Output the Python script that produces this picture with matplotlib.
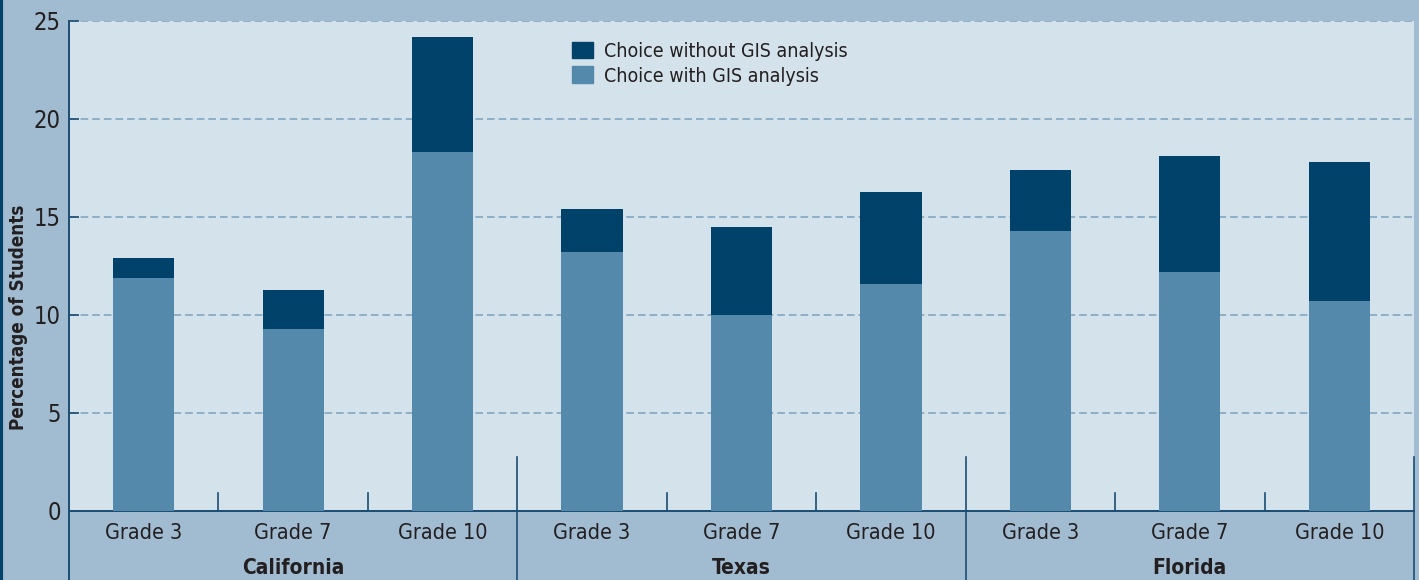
import matplotlib
matplotlib.use("Agg")
import matplotlib.pyplot as plt
from matplotlib.lines import Line2D
from matplotlib.patches import Patch
import numpy as np

states = ["California", "Texas", "Florida"]
grades = ["Grade 3", "Grade 7", "Grade 10"]
with_gis = [11.9, 9.3, 18.3, 13.2, 10.0, 11.6, 14.3, 12.2, 10.7]
total = [12.9, 11.3, 24.2, 15.4, 14.5, 16.3, 17.4, 18.1, 17.8]
without_gis = [t - w for t, w in zip(total, with_gis)]
yticks = [0, 5, 10, 15, 20, 25]

plt.rcParams['font.family'] = ['DejaVu Sans']
plt.rcParams['font.stretch'] = 'condensed'

FIG_BG = '#a1bbd1'
AX_BG = '#d4e2eb'
DARK = '#00426a'
LIGHT = '#5589ab'
LINE = '#1b4e74'
GRID = '#7ba1bc'
TXT = '#231f20'

W, H = 1419, 580
fig = plt.figure(figsize=(W / 100, H / 100), dpi=100, facecolor=FIG_BG)
ax = fig.add_axes([69 / W, (H - 511) / H, (1414 - 69) / W, (511 - 21) / H])
ax.set_facecolor(AX_BG)

n = len(states) * len(grades)
x = np.arange(n)
ax.bar(x, with_gis, width=0.41, color=LIGHT, zorder=3, label="Choice with GIS analysis")
ax.bar(x, without_gis, bottom=with_gis, width=0.41, color=DARK, zorder=3,
       label="Choice without GIS analysis")

ax.set_xlim(-0.5, n - 0.5)
ax.set_ylim(0, 25)
ax.set_yticks(yticks)
ax.yaxis.grid(True, linestyle=(0, (5, 2.6)), color=GRID, linewidth=1.1, zorder=1)
ax.set_axisbelow(True)
ax.tick_params(axis='y', direction='in', length=7, width=1.2, color=LINE,
               labelsize=17, labelcolor=TXT, pad=6)
ax.set_xticks([])
for s in ['top', 'right']:
    ax.spines[s].set_visible(False)
ax.spines['bottom'].set_color(LINE)
ax.spines['bottom'].set_linewidth(1.4)
ax.spines['left'].set_visible(False)

ax.set_ylabel("Percentage of Students", fontsize=13.5, fontweight='bold', color=TXT)
ax.yaxis.set_label_coords((28 - 69) / (1414 - 69), (511 - 317) / 490)

# left spine extending below axis
tr = ax.get_xaxis_transform()
ax.add_line(Line2D([-0.5, -0.5], [1.0, -0.2], transform=tr, color=LINE, lw=1.4, clip_on=False, zorder=5))

# group separators and small ticks
ng = len(grades)
for gi in range(1, len(states) + 1):
    xs = gi * ng - 0.5
    ax.add_line(Line2D([xs, xs], [0.11, -0.2], transform=tr, color=LINE, lw=1.2, clip_on=False, zorder=5))
for i in range(n - 1):
    if (i + 1) % ng != 0:
        ax.plot([i + 0.5, i + 0.5], [0, 0.9], color=LINE, lw=1.2, zorder=4, clip_on=False)

# grade labels and state labels
for i in range(n):
    ax.text(i, -0.045, grades[i % ng], transform=tr, ha='center', va='center',
            fontsize=15.5, color=TXT)
for si, st in enumerate(states):
    ax.text(si * ng + (ng - 1) / 2, -0.116, st, transform=tr, ha='center', va='center',
            fontsize=15, fontweight='bold', color=TXT)

handles = [Patch(color=DARK), Patch(color=LIGHT)]
ax.legend(handles, ["Choice without GIS analysis", "Choice with GIS analysis"],
          loc='upper left', bbox_to_anchor=(0.374, 0.958), frameon=False,
          fontsize=14, handlelength=1.1, handleheight=0.95, handletextpad=0.55,
          labelspacing=0.3, labelcolor=TXT, borderaxespad=0, borderpad=0)

# left edge dark line of figure
fig.add_artist(Line2D([0.001, 0.001], [0, 1], transform=fig.transFigure, color='#00426a', lw=3))

fig.savefig("out.png", dpi=100, facecolor=FIG_BG)
